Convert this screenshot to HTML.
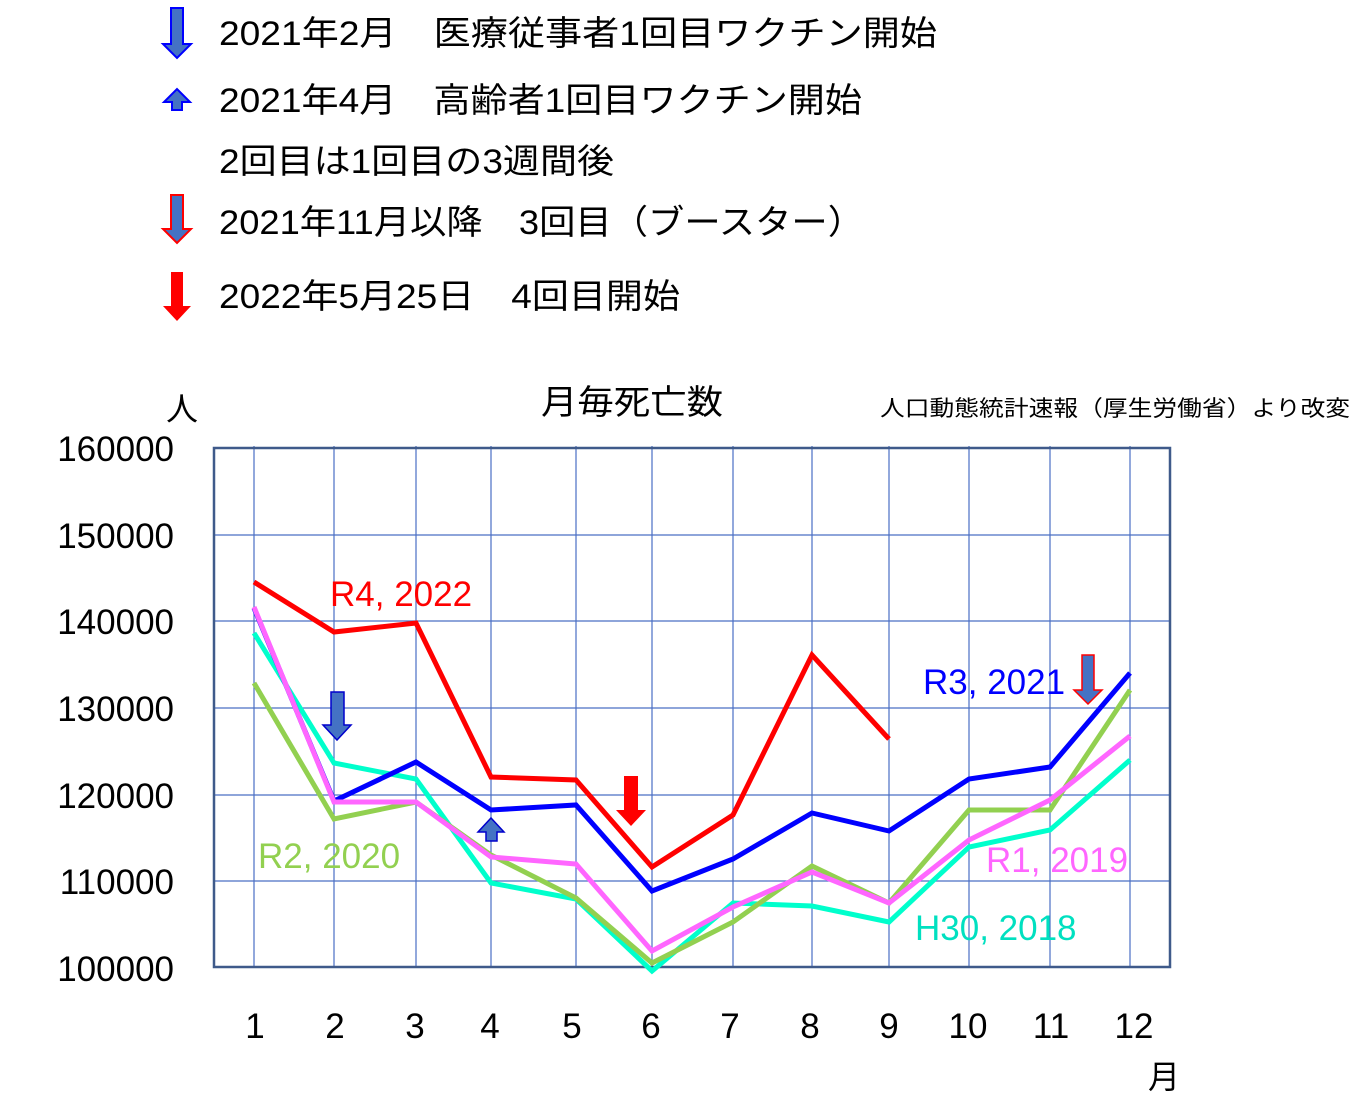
<!DOCTYPE html>
<html><head><meta charset="utf-8"><style>
html,body{margin:0;padding:0;background:#fff;}
svg{display:block;font-family:"Liberation Sans","Noto Sans CJK JP",sans-serif;}
</style></head><body>
<svg width="1365" height="1102" viewBox="0 0 1365 1102" xmlns="http://www.w3.org/2000/svg">
<defs>
<g id="dn"><path d="M-6,-24 H6 V0 H12 L0,14 L-12,0 H-6 Z"/></g>
</defs>
<!-- header arrows -->
<path d="M171,8 H183 V44 H191 L177,58 L163,44 H171 Z" fill="#4472c4" stroke="#0000ff" stroke-width="2"/>
<path d="M172,110 H182 V102 H190 L177,89 L164,102 H172 Z" fill="#4472c4" stroke="#0000ff" stroke-width="2"/>
<path d="M171,195 H183 V229 H191 L177,243 L163,229 H171 Z" fill="#4472c4" stroke="#ff0000" stroke-width="2"/>
<path d="M171,272 H183 V306 H191 L177,321 L163,306 H171 Z" fill="#ff0000"/>
<g font-size="34" fill="#000">
<text x="219" y="45" textLength="718" lengthAdjust="spacingAndGlyphs">2021年2月　医療従事者1回目ワクチン開始</text>
<text x="219" y="112" textLength="643" lengthAdjust="spacingAndGlyphs">2021年4月　高齢者1回目ワクチン開始</text>
<text x="219" y="173" textLength="395" lengthAdjust="spacingAndGlyphs">2回目は1回目の3週間後</text>
<text x="219" y="234" textLength="645" lengthAdjust="spacingAndGlyphs">2021年11月以降　3回目（ブースター）</text>
<text x="219" y="308" textLength="461" lengthAdjust="spacingAndGlyphs">2022年5月25日　4回目開始</text>
</g>
<text x="632" y="414" font-size="34" text-anchor="middle" textLength="182" lengthAdjust="spacingAndGlyphs">月毎死亡数</text>
<text x="880" y="416" font-size="22" textLength="470" lengthAdjust="spacingAndGlyphs">人口動態統計速報（厚生労働省）より改変</text>
<text x="166" y="420" font-size="32">人</text>
<text x="1148" y="1088" font-size="32">月</text>
<!-- grid -->
<g stroke="#4a6fc4" stroke-width="1.2">
<line x1="214" y1="535" x2="1170" y2="535"/><line x1="214" y1="621" x2="1170" y2="621"/>
<line x1="214" y1="708" x2="1170" y2="708"/><line x1="214" y1="795" x2="1170" y2="795"/>
<line x1="214" y1="881" x2="1170" y2="881"/>
<line x1="254" y1="446" x2="254" y2="967"/><line x1="334" y1="446" x2="334" y2="967"/>
<line x1="416" y1="446" x2="416" y2="967"/><line x1="491" y1="446" x2="491" y2="967"/>
<line x1="576" y1="446" x2="576" y2="967"/><line x1="652" y1="446" x2="652" y2="967"/>
<line x1="733" y1="446" x2="733" y2="967"/><line x1="812" y1="446" x2="812" y2="967"/>
<line x1="889" y1="446" x2="889" y2="967"/><line x1="969" y1="446" x2="969" y2="967"/>
<line x1="1050" y1="446" x2="1050" y2="967"/><line x1="1130" y1="446" x2="1130" y2="967"/>
</g>
<rect x="214" y="448" width="956" height="519" fill="none" stroke="#3f5a8a" stroke-width="2.5"/>
<!-- y labels -->
<g font-size="35" text-anchor="end">
<text x="174" y="461">160000</text><text x="174" y="548">150000</text>
<text x="174" y="634">140000</text><text x="174" y="721">130000</text>
<text x="174" y="808">120000</text><text x="174" y="894">110000</text>
<text x="174" y="981">100000</text>
</g>
<g font-size="35" text-anchor="middle">
<text x="255" y="1038">1</text><text x="335" y="1038">2</text><text x="415" y="1038">3</text>
<text x="490" y="1038">4</text><text x="572" y="1038">5</text><text x="651" y="1038">6</text>
<text x="730" y="1038">7</text><text x="810" y="1038">8</text><text x="889" y="1038">9</text>
<text x="968" y="1038">10</text><text x="1051" y="1038">11</text><text x="1134" y="1038">12</text>
</g>
<!-- series -->
<g fill="none" stroke-width="5" stroke-linejoin="miter">
<polyline stroke="#00ffcc" points="254,633 334,763 416,779 491,883 576,899 652,971 733,903 812,906 889,922 969,847 1050,830 1130,760"/>
<polyline stroke="#92d050" points="254,683 334,819 416,802 491,855 576,898 652,963 733,922 812,866 889,903 969,810 1050,810 1130,690"/>
<polyline stroke="#0000ff" points="254,608 334,801 416,762 491,810 576,805 652,891 733,859 812,813 889,831 969,779 1050,767 1130,673"/>
<polyline stroke="#ff66ff" points="254,607 334,802 416,802 491,857 576,864 652,951 733,907 812,872 889,903 969,840 1050,800 1130,736"/>
<polyline stroke="#ff0000" points="254,582 334,632 416,623 491,777 576,780 652,867 733,815 812,655 889,739"/>
</g>
<!-- chart arrows -->
<path d="M331,692 H344 V725 H351 L337,740 L323,725 H331 Z" fill="#4472c4" stroke="#0000cc" stroke-width="1.5"/>
<path d="M486,841 H497 V832 H504 L491,818 L478,832 H486 Z" fill="#4472c4" stroke="#0000cc" stroke-width="1.5"/>
<path d="M624,776 H638 V810 H646 L631,826 L616,810 H624 Z" fill="#ff0000"/>
<path d="M1082,655 H1094 V690 H1102 L1088,704 L1074,690 H1082 Z" fill="#4472c4" stroke="#ff0000" stroke-width="1.5"/>
<!-- series labels -->
<g font-size="35">
<text x="330" y="606" fill="#ff0000">R4, 2022</text>
<text x="923" y="694" fill="#0000ff">R3, 2021</text>
<text x="258" y="868" fill="#92d050">R2, 2020</text>
<text x="986" y="872" fill="#ff66ff">R1, 2019</text>
<text x="915" y="940" fill="#00e0c0">H30, 2018</text>
</g>
</svg>
</body></html>
